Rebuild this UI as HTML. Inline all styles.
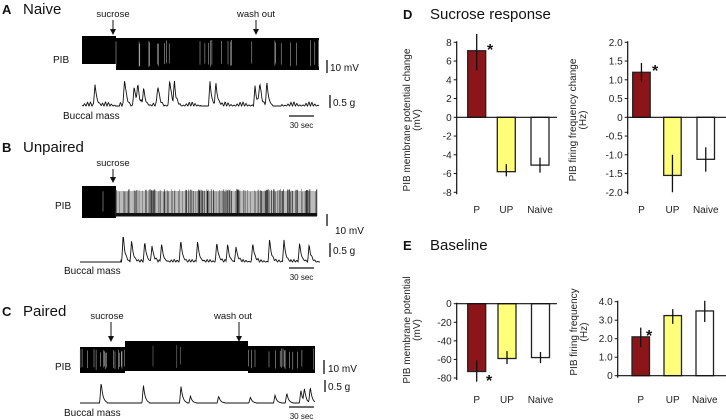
<!DOCTYPE html>
<html><head><meta charset="utf-8">
<style>
html,body{margin:0;padding:0;background:#fff;}
svg{display:block;font-family:"Liberation Sans",Arial,sans-serif;}
</style></head>
<body>
<svg id="fig" width="726" height="420" viewBox="0 0 726 420" xmlns="http://www.w3.org/2000/svg">
  <g id="left"></g>
  <g id="right"></g>
</svg>
<script>
// ===== Bar chart data =====
const groups = ["P", "UP", "Naive"];
const sucroseVm = [7.1, -5.8, -5.1];
const sucroseVmErrLo = [5.0, -6.3, -5.9];
const sucroseVmErrHi = [8.9, -5.0, -4.3];
const sucroseHz = [1.2, -1.55, -1.12];
const sucroseHzErrLo = [0.95, -2.0, -1.45];
const sucroseHzErrHi = [1.45, -1.0, -0.8];
const baseVm = [-73, -59, -58];
const baseVmErrLo = [-84, -65, -64];
const baseVmErrHi = [-61, -51, -52];
const baseHz = [2.1, 3.25, 3.5];
const baseHzErrLo = [1.55, 2.8, 2.9];
const baseHzErrHi = [2.6, 3.6, 4.05];
const ticksSucVm = ["8","6","4","2","0","-2","-4","-6","-8"];
const ticksSucHz = ["2.0","1.5","1.0","0.5","0","-0.5","-1.0","-1.5","-2.0"];
const ticksBaseVm = ["0","-20","-40","-60","-80"];
const ticksBaseHz = ["4.0","3.0","2.0","1.0","0"];
const colors = ["#8b1518", "#ffff7a", "#ffffff"];

// ===== Trace data (event times as fraction of trace width, peak heights px) =====
const peaksA = [[0.055,22],[0.18,27],[0.22,20],[0.235,18],[0.26,17],[0.32,20],[0.37,27],[0.39,20],[0.54,25],[0.565,24],[0.73,18],[0.75,22],[0.78,25]];
const peaksB = [[0.18,26],[0.215,22],[0.27,20],[0.3,16],[0.34,18],[0.42,22],[0.49,21],[0.57,20],[0.615,17],[0.65,15],[0.72,19],[0.79,23],[0.85,22],[0.915,19],[0.955,16]];
const peaksC = [[0.09,21],[0.27,18],[0.43,17],[0.47,7],[0.59,7],[0.725,6],[0.83,8],[0.88,10],[0.94,13],[0.955,13],[0.98,16]];

const NS = "http://www.w3.org/2000/svg";
function mk(parent, tag, attrs, text){
  const e = document.createElementNS(NS, tag);
  for (const k in attrs) e.setAttribute(k, attrs[k]);
  if (text !== undefined) e.textContent = text;
  parent.appendChild(e);
  return e;
}
const L = document.getElementById('left');
const R = document.getElementById('right');

function barChart(opt){
  const g = mk(R, 'g', {});
  
  
  const y = v => opt.y0 + (v - opt.vmin) * (opt.y1 - opt.y0) / (opt.vmax - opt.vmin);
  const zeroY = y(0);
  for (let i = 0; i < groups.length; i++){
    const x0 = opt.barX[i], w = opt.barW;
    const v = opt.vals[i];
    const top = Math.min(y(v), zeroY), h = Math.abs(y(v) - zeroY);
    const b = mk(g, 'rect', {x: x0, y: top, width: w, height: h, fill: colors[i], stroke: '#222', 'stroke-width': 1.3});
    
    
    const cx = x0 + w / 2;
    const eb = mk(g, 'line', {x1: cx, x2: cx, y1: y(opt.lo[i]), y2: y(opt.hi[i]), stroke: '#111', 'stroke-width': 1.3});
    
    
    const lab = mk(g, 'text', {x: cx, y: opt.labY, 'font-size': 10, 'text-anchor': 'middle', fill: '#222'}, groups[i]);
    
    
  }
  const ax = mk(g, 'line', {x1: opt.axX, x2: opt.axX, y1: y(opt.vmax) - 1, y2: y(opt.vmin) + 2, stroke: '#111', 'stroke-width': 1.2});
  
  
  const bl = mk(g, 'line', {x1: opt.axX, x2: opt.baseEnd, y1: zeroY, y2: zeroY, stroke: '#111', 'stroke-width': 1.2});
  
  
  const n = opt.ticks.length;
  for (let i = 0; i < n; i++){
    const v = opt.vmax - i * (opt.vmax - opt.vmin) / (n - 1);
    const ty = y(v);
    mk(g, 'line', {x1: opt.axX - 3, x2: opt.axX, y1: ty, y2: ty, stroke: '#111', 'stroke-width': 1});
    const t = mk(g, 'text', {x: opt.axX - 5, y: ty + 3.5, 'font-size': 10, 'text-anchor': 'end', fill: '#222'}, opt.ticks[i]);
    
    
  }
  const tg = mk(g, 'text', {transform: `translate(${opt.titleX},${opt.titleY}) rotate(-90)`, 'font-size': 10, 'text-anchor': 'middle', fill: '#222'});
  
  
  mk(tg, 'tspan', {x: 0, dy: 0}, opt.title1);
  mk(tg, 'tspan', {x: 0, dy: 10}, opt.title2);
  const st = mk(g, 'text', {x: opt.star[0], y: opt.star[1], 'font-size': 16, 'font-weight': 'bold', fill: '#111'}, '*');
  
  
}

barChart({name:'sucrose-vm-chart', vmin:-8, vmax:8, y0:192.3, y1:42.3, vals:sucroseVm, lo:sucroseVmErrLo, hi:sucroseVmErrHi,
  ticks:ticksSucVm, axX:456.7, baseEnd:557, barX:[467.7,497.3,531], barW:18, labY:213,
  titleX:410, titleY:120, title1:'PIB membrane potential change', title2:'(mV)', star:[487,55]});
barChart({name:'sucrose-hz-chart', vmin:-2, vmax:2, y0:192.3, y1:42.3, vals:sucroseHz, lo:sucroseHzErrLo, hi:sucroseHzErrHi,
  ticks:ticksSucHz, axX:627.7, baseEnd:726, barX:[632.7,663.7,697], barW:17.5, labY:213,
  titleX:576, titleY:120, title1:'PIB firing frequency change', title2:'(Hz)', star:[652,76]});
barChart({name:'baseline-vm-chart', vmin:-80, vmax:0, y0:378, y1:303.7, vals:baseVm, lo:baseVmErrLo, hi:baseVmErrHi,
  ticks:ticksBaseVm, axX:456.7, baseEnd:557, barX:[467.7,498,531.5], barW:18, labY:403,
  titleX:410, titleY:330, title1:'PIB membrane potential', title2:'(mV)', star:[486,386]});
barChart({name:'baseline-hz-chart', vmin:0, vmax:4, y0:375.7, y1:301.7, vals:baseHz, lo:baseHzErrLo, hi:baseHzErrHi,
  ticks:ticksBaseHz, axX:617.7, baseEnd:726, barX:[632,664,696], barW:17.5, labY:403,
  titleX:577, titleY:332, title1:'PIB firing frequency', title2:'(Hz)', star:[646,341]});

function label(parent, x, y, size, bold, txt, name){
  const t = mk(parent, 'text', {x:x, y:y, 'font-size':size, 'font-weight': bold?'bold':'normal', fill:'#111'}, txt);
  
  
  return t;
}
label(R, 403, 19, 13, true, 'D', 'panel-letter-d');
label(R, 430, 19, 15, false, 'Sucrose response', 'panel-title-sucrose-response');
label(R, 403, 250, 13, true, 'E', 'panel-letter-e');
label(R, 430, 250, 15, false, 'Baseline', 'panel-title-baseline');

let seed = 7;
function rnd(){ seed = (seed * 16807) % 2147483647; return seed / 2147483647; }

function pib(name, segs){
  const g = mk(L, 'g', {});
  
  
  for (const s of segs){
    if (s[5] === 'solid'){
      mk(g, 'rect', {x:s[0], y:s[2], width:s[1]-s[0], height:s[3]-s[2], fill:'#000'});
      let d = '';
      for (let x = s[0]; x < s[1]; x += 0.7){
        if (rnd() < s[4]) d += `M${x.toFixed(1)} ${s[2]+2+rnd()*4}V${s[3]-3-rnd()*4}`;
      }
      if (d) mk(g, 'path', {d:d, stroke:s[6]||'#aaa', 'stroke-width':0.5});
    } else {
      mk(g, 'rect', {x:s[0], y:s[2]+2, width:s[1]-s[0], height:s[3]-s[2]-4, fill:'#bbb'});
      let d = '', d2 = '';
      for (let x = s[0]; x < s[1]; x += 0.7){
        const r = rnd();
        if (r < 0.15) d += `M${x.toFixed(1)} ${s[2]+rnd()*2}V${s[3]-2}`;
        else if (r < 0.55) d2 += `M${x.toFixed(1)} ${s[2]+rnd()*3}V${s[3]-2}`;
      }
      mk(g, 'path', {d:d2, stroke:'#666', 'stroke-width':0.6});
      mk(g, 'path', {d:d, stroke:'#111', 'stroke-width':0.6});
      mk(g, 'rect', {x:s[0], y:s[3]-5, width:s[1]-s[0], height:3.5, fill:'#111'});
    }
  }
}
function buccal(name, x0, x1, base, peaks, noiseAmp, noiseRanges){
  const pts = [];
  for (let x = x0; x <= x1; x += 0.5){
    const f = (x - x0) / (x1 - x0);
    let yv = base;
    for (const p of peaks){
      const d = (f - p[0]) * (x1 - x0);
      if (d > -1.5 && d < 6) yv -= p[1] * (d < 0 ? (1 + d/1.5) : Math.exp(-d/1.8));
    }
    for (const r of noiseRanges){
      if (f >= r[0] && f <= r[1]) yv -= noiseAmp * (0.5 + 0.5*Math.sin(x*2.1)) * (0.6+0.4*Math.sin(x*0.37));
    }
    pts.push(x.toFixed(1) + ',' + yv.toFixed(1));
  }
  const p = mk(L, 'polyline', {points: pts.join(' '), fill:'none', stroke:'#111', 'stroke-width':0.9});
  
  
}
function arrow(x, yTop, yBot, txt, tx, ty, name){
  const g = mk(L, 'g', {});
  
  
  mk(g, 'text', {x:tx, y:ty, 'font-size':9.5, 'text-anchor':'middle', fill:'#111'}, txt);
  mk(g, 'line', {x1:x, x2:x, y1:yTop, y2:yBot-4, stroke:'#111', 'stroke-width':1});
  mk(g, 'path', {d:`M${x-3} ${yBot-6}L${x+3} ${yBot-6}L${x} ${yBot}Z`, fill:'#111'});
}
function scale(x, y1, y2, txt, tx, ty, name){
  const g = mk(L, 'g', {});
  
  
  mk(g, 'line', {x1:x, x2:x, y1:y1, y2:y2, stroke:'#111', 'stroke-width':1.3});
  mk(g, 'text', {x:tx, y:ty, 'font-size':10, fill:'#111'}, txt);
}
function timebar(y, ty, name){
  const g = mk(L, 'g', {});
  
  
  mk(g, 'line', {x1:289, x2:314, y1:y, y2:y, stroke:'#111', 'stroke-width':1.3});
  mk(g, 'text', {x:301.5, y:ty, 'font-size':8, 'text-anchor':'middle', fill:'#111'}, '30 sec');
}

// Panel A
label(L, 2, 14, 13, true, 'A', 'panel-letter-a');
label(L, 23, 14, 15, false, 'Naive', 'panel-title-naive');
arrow(113, 20, 35, 'sucrose', 113, 17, 'sucrose-arrow-a');
arrow(256, 20, 35, 'wash out', 256, 17, 'washout-arrow-a');
pib('pib-trace-a', [[82,116,36,64,0,'solid'],[116,319,38,70,0.09,'solid','#ccc']]);
label(L, 53, 63, 10, false, 'PIB', 'pib-label-a');
scale(327, 60, 73, '10 mV', 330, 71, 'scale-10mv-a');
buccal('buccal-trace-a', 82, 319, 106, peaksA, 4, [[0,0.14],[0.16,0.5],[0.57,0.78],[0.84,1]]);
label(L, 63, 119, 10, false, 'Buccal mass', 'buccal-label-a');
scale(330, 95, 108, '0.5 g', 333, 106, 'scale-05g-a');
timebar(116, 128, 'time-scale-a');

// Panel B
label(L, 2, 152, 13, true, 'B', 'panel-letter-b');
label(L, 23, 152, 15, false, 'Unpaired', 'panel-title-unpaired');
arrow(113, 169, 183, 'sucrose', 113, 166, 'sucrose-arrow-b');
pib('pib-trace-b', [[82,116,186,218,0.01,'solid','#ccc'],[116,317,189,218,0,'spikes']]);
label(L, 55, 209, 10, false, 'PIB', 'pib-label-b');
scale(327, 214, 226, '10 mV', 335, 234, 'scale-10mv-b');
buccal('buccal-trace-b', 80, 320, 262, peaksB, 2.5, [[0.17,1]]);
label(L, 64, 274, 10, false, 'Buccal mass', 'buccal-label-b');
scale(330, 243, 257, '0.5 g', 333, 254, 'scale-05g-b');
timebar(268, 280, 'time-scale-b');

// Panel C
label(L, 2, 316, 13, true, 'C', 'panel-letter-c');
label(L, 23, 316, 15, false, 'Paired', 'panel-title-paired');
arrow(111, 322, 342, 'sucrose', 107, 319, 'sucrose-arrow-c');
arrow(239, 322, 342, 'wash out', 233, 319, 'washout-arrow-c');
pib('pib-trace-c', [[80,125,347,373,0.2,'solid','#ccc'],[125,248,341,371,0.015,'solid','#999'],[248,315,346,373,0.2,'solid','#ccc']]);
label(L, 55, 370, 10, false, 'PIB', 'pib-label-c');
scale(324, 360, 374, '10 mV', 328, 372, 'scale-10mv-c');
buccal('buccal-trace-c', 80, 315, 403, peaksC, 0, []);
label(L, 64, 416, 10, false, 'Buccal mass', 'buccal-label-c');
scale(325, 380, 392, '0.5 g', 328, 390, 'scale-05g-c');
timebar(407, 419, 'time-scale-c');
</script>
</body></html>
